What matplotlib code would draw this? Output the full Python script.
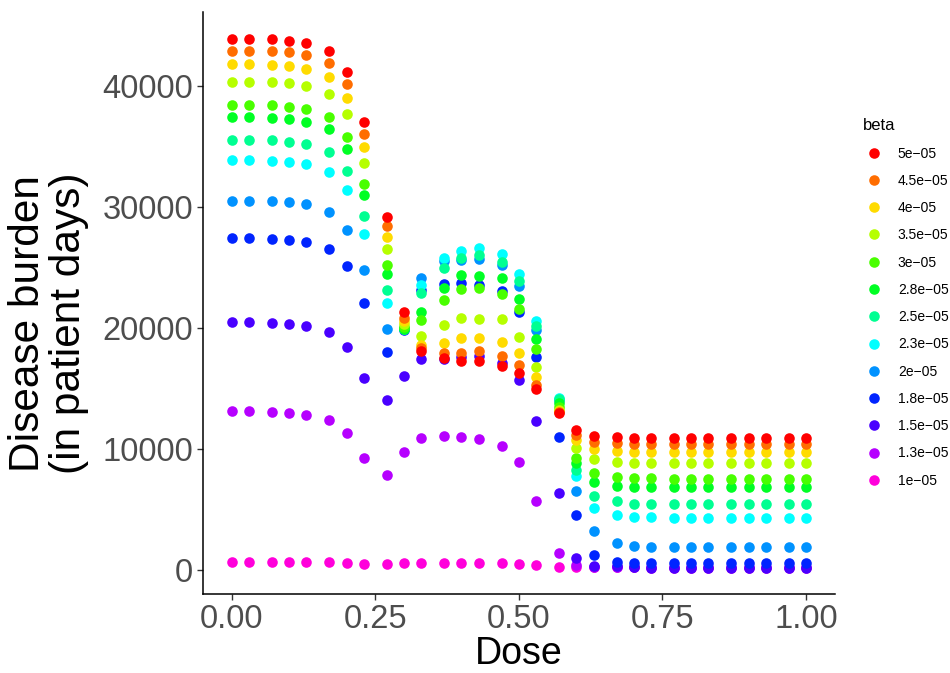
import colorsys
import matplotlib
matplotlib.use('Agg')
import matplotlib.pyplot as plt
from matplotlib.lines import Line2D

plt.rcParams['font.family'] = ['Liberation Sans', 'DejaVu Sans']

# dose values (x)
dose = [0, .03, .07, .1, .13, .17, .2, .23, .27, .3, .33, .37, .4, .43, .47, .5,
        .53, .57, .6, .63, .67, .7, .73, .77, .8, .83, .87, .9, .93, .97, 1.0]

beta_labels = ['5e\u221205', '4.5e\u221205', '4e\u221205', '3.5e\u221205', '3e\u221205',
               '2.8e\u221205', '2.5e\u221205', '2.3e\u221205', '2e\u221205', '1.8e\u221205',
               '1.5e\u221205', '1.3e\u221205', '1e\u221205']

# disease burden per beta
b50 = [43950, 43950, 43925, 43790, 43560, 42900, 41200, 37040, 29200, 21320, 18150, 17570, 17325, 17325, 16890, 16290,
       14990, 13010, 11630, 11140, 11005, 10950, 10930] + [10920] * 8
b45 = [42960, 42960, 42930, 42820, 42600, 41940, 40210, 36085, 28460, 20900, 18350, 17960, 17960, 18150, 17690, 17000,
       15320, 13100, 11220, 10640, 10510, 10450, 10440] + [10430] * 8
b40 = [41830, 41830, 41800, 41660, 41450, 40790, 39080, 35010, 27590, 20575, 18650, 18810, 19200, 19220, 18870, 17940,
       16005, 13200, 10780, 10015, 9850, 9795, 9780] + [9770] * 8
b35 = [40400, 40400, 40370, 40260, 40045, 39385, 37680, 33690, 26540, 20350, 19390, 20300, 20850, 20765, 20740, 19280,
       16830, 13300, 10150, 9190, 8970, 8910, 8890] + [8885] * 8
b30 = [38450, 38450, 38420, 38310, 38090, 37455, 35805, 31930, 25220, 20080, 20680, 22360, 23240, 23320, 22885, 21590,
       18265, 13480, 9320, 8035, 7705, 7650, 7610] + [7590] * 8
b28 = [37430, 37430, 37400, 37320, 37075, 36465, 34850, 31020, 24500, 19940, 21370, 23320, 24420, 24340, 24125, 22470,
       19115, 13850, 8885, 7345, 7010, 6930, 6900] + [6880] * 8
b25 = [35560, 35560, 35530, 35420, 35200, 34570, 33000, 29290, 23180, 19950, 22890, 24970, 25855, 26070, 25525, 23925,
       20210, 14150, 8330, 6190, 5725, 5530, 5530] + [5530] * 8
b23 = [33910, 33910, 33860, 33775, 33550, 32950, 31410, 27835, 22085, 19980, 23600, 25855, 26400, 26620, 26130, 24500,
       20600, 14220, 7790, 5200, 4570, 4405, 4380] + [4350] * 8
b20 = [30525, 30525, 30500, 30420, 30250, 29650, 28165, 24830, 19940, 20000, 24150, 25550, 25660, 25770, 25245, 23510,
       19830, 14050, 6550, 3250, 2260, 2040, 1955] + [1930] * 8
b18 = [27450, 27450, 27400, 27310, 27120, 26565, 25160, 22060, 18070, 19900, 23160, 23710, 23730, 23600, 23100, 21370,
       17655, 11055, 4570, 1295, 720, 635, 610] + [610] * 8
b15 = [20495, 20495, 20470, 20380, 20190, 19690, 18480, 15900, 14110, 16060, 17470, 17500, 17600, 17690, 17130, 15710,
       12375, 6435, 1020, 390, 365, 250, 230] + [220] * 8
b13 = [13150, 13150, 13120, 13035, 12870, 12430, 11360, 9300, 7895, 9790, 10970, 11090, 11055, 10865, 10310, 8990,
       5725, 1435, 410, 320, 300, 290, 280] + [280] * 8
b10 = [693, 693, 693, 690, 690, 690, 610, 530, 530, 580, 610, 610, 600, 600, 580, 540,
       470, 305, 280, 270, 260, 250, 240] + [240] * 8

series = [b50, b45, b40, b35, b30, b28, b25, b23, b20, b18, b15, b13, b10]

# rainbow palette, red -> magenta
colors = [colorsys.hsv_to_rgb(i / 14.0, 1, 1) for i in range(13)]

fig = plt.figure(figsize=(9.5, 6.73), dpi=100)
ax = fig.add_axes([0.2137, 0.117, 0.665, 0.865])

# low beta first so high beta ends on top
for i in reversed(range(13)):
    ax.scatter(dose, series[i], s=58, color=colors[i], linewidths=0, zorder=3)

allv = [v for s in series for v in s]
lo, hi = min(allv), max(allv)
pad = 0.05 * (hi - lo)
ax.set_xlim(-0.05, 1.05)
ax.set_ylim(lo - pad, hi + pad)

ax.set_xticks([0, 0.25, 0.5, 0.75, 1.0])
ax.set_xticklabels(['0.00', '0.25', '0.50', '0.75', '1.00'])
ax.set_yticks([0, 10000, 20000, 30000, 40000])
ax.set_yticklabels(['0', '10000', '20000', '30000', '40000'])
ax.tick_params(axis='both', labelsize=23.5, labelcolor='#4D4D4D', color='#333333',
               length=4, width=1, pad=3)

for side in ['top', 'right']:
    ax.spines[side].set_visible(False)
for side in ['left', 'bottom']:
    ax.spines[side].set_linewidth(1.1)

ax.set_xlabel('Dose', fontsize=27, labelpad=1)
ax.set_ylabel('Disease burden\n(in patient days)', fontsize=30.5, linespacing=1.05)
ax.yaxis.set_label_coords(-0.18, 0.465)

handles = [Line2D([], [], marker='o', linestyle='', markersize=7.6, markeredgewidth=0,
                  color=colors[i]) for i in range(13)]
leg = ax.legend(handles, beta_labels, title='beta', loc='upper left',
                bbox_to_anchor=(0.902, 0.8325), bbox_transform=fig.transFigure,
                frameon=False, fontsize=10, title_fontsize=12, labelspacing=0.955,
                handletextpad=0.95, handlelength=1.6, alignment='left', borderaxespad=0)

plt.savefig('out.png', dpi=100)
